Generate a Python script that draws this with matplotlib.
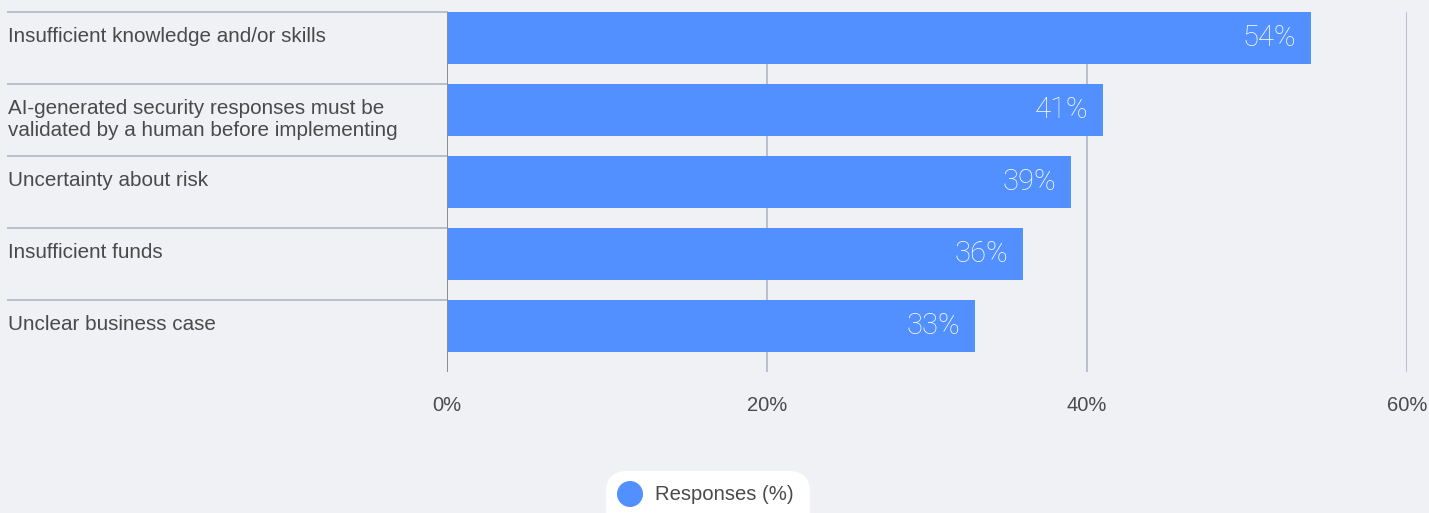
import matplotlib
matplotlib.use("Agg")
import matplotlib.pyplot as plt
from matplotlib.patches import FancyBboxPatch, Circle
from matplotlib.lines import Line2D
from matplotlib import font_manager

categories = [
    "Insufficient knowledge and/or skills",
    "AI-generated security responses must be\nvalidated by a human before implementing",
    "Uncertainty about risk",
    "Insufficient funds",
    "Unclear business case",
]
values = [54, 41, 39, 36, 33]
x_ticks = [0, 20, 40, 60]
x_tick_labels = ["0%", "20%", "40%", "60%"]
legend_label = "Responses (%)"

BG = "#EFF1F5"
BAR = "#5290FF"
GRID = "#B9C0CD"
TEXT = "#4A4A4A"
FONT = ["Liberation Sans", "DejaVu Sans"]

# light face for the numbers on the bars, if one is installed
light_names = {f.name for f in font_manager.fontManager.ttflist
               if f.weight in (200, 300, "light", "extra light")}
LIGHT = ["Roboto"] if "Roboto" in light_names else (["Lato"] if "Lato" in light_names else FONT)
LIGHT_W = "light" if LIGHT != FONT else "normal"

W, H = 1429, 513
fig = plt.figure(figsize=(W / 100, H / 100), dpi=100, facecolor=BG)
left, right, top, bottom = 447, 1407, 12, 372
ax = fig.add_axes([left / W, 1 - bottom / H, (right - left) / W, (bottom - top) / H])
ax.set_facecolor(BG)

n = len(categories)
bar_h = 52 / 72
ys = list(range(n))

# gridlines and zero axis
for xv in x_ticks[1:]:
    ax.vlines(xv, 0, n, color=GRID, lw=1.4, zorder=1)
ax.vlines(0, 0, n, color="#8C8C8C", lw=1.4, zorder=3)

ax.barh([y + bar_h / 2 for y in ys], values, height=bar_h, color=BAR, zorder=2)

px = 60 / (right - left)  # data units per pixel
xl = (8 - left) / (right - left)
for y, v, c in zip(ys, values, categories):
    ax.text(v - 15 * px, y + bar_h / 2, f"{v}%", ha="right", va="center",
            color="white", fontsize=21, family=LIGHT, fontweight=LIGHT_W, zorder=4)
    # row separator line across the label column
    ax.add_line(Line2D([xl, 0], [y, y], transform=ax.get_yaxis_transform(),
                       color=GRID, lw=1.4, clip_on=False, zorder=1))
    ax.text(xl, y + 15 / 72, c, transform=ax.get_yaxis_transform(),
            ha="left", va="top", color=TEXT, fontsize=14.9, family=FONT,
            linespacing=1.18)

ax.set_xlim(0, 60)
ax.set_ylim(n, 0)
ax.set_xticks(x_ticks)
ax.set_xticklabels(x_tick_labels, family=FONT, fontsize=14.5, color=TEXT)
ax.set_yticks([])
ax.tick_params(axis="x", length=0, pad=17)
for s in ax.spines.values():
    s.set_visible(False)

# legend pill, drawn on a pixel-space overlay
lay = fig.add_axes([0, 0, 1, 1], facecolor="none")
lay.set_xlim(0, W)
lay.set_ylim(H, 0)
lay.axis("off")
lay.add_patch(FancyBboxPatch((606, 471), 204, 60,
                             boxstyle="round,pad=0,rounding_size=21",
                             facecolor="white", edgecolor="none"))
lay.add_patch(Circle((630, 494), 13, facecolor=BAR, edgecolor="none"))
lay.text(655, 494, legend_label, ha="left", va="center",
         fontsize=14.6, color=TEXT, family=FONT)

fig.savefig("out.png", dpi=100, facecolor=BG)
